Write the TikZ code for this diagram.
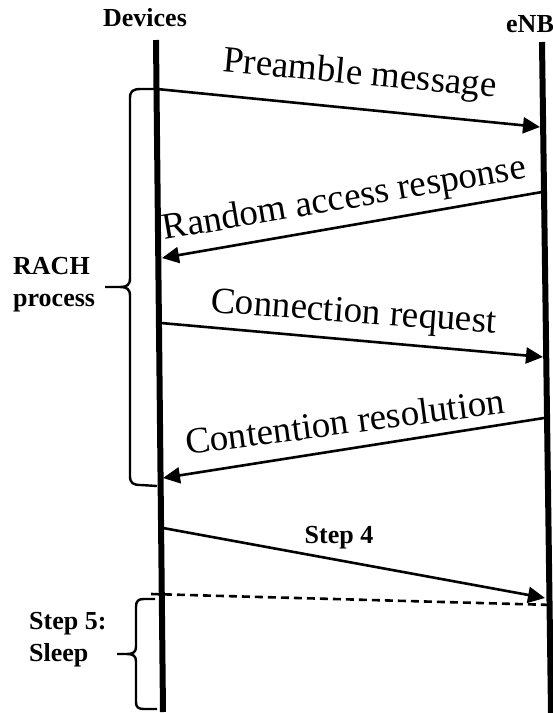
\documentclass[tikz,border=0pt]{standalone}
\usepackage{fontspec}
\setmainfont{Liberation Serif}
\usetikzlibrary{arrows.meta}

\tikzset{
  lifeline/.style={line width=6pt},
  msg/.style={line width=2.6pt, -{Triangle[length=17pt,width=16pt]}},
  msgtext/.style={anchor=base, inner sep=0pt, font=\fontsize{37}{42}\selectfont},
  actor/.style={inner sep=0pt, font=\fontsize{26}{32}\selectfont\bfseries},
  sidelabel/.style={inner sep=0pt, align=left, anchor=west, font=\fontsize{26}{32}\selectfont\bfseries},
  bracket/.style={line width=2.4pt, line join=round},
  sleepline/.style={line width=2.6pt, dash pattern=on 8pt off 5pt}
}

\begin{document}
\begin{tikzpicture}[x=1pt, y=-1pt]
\useasboundingbox (0,0) rectangle (553,713);

% actors and their lifelines
\node[actor, anchor=base] (dev) at (145,26) {Devices};
\node[actor, anchor=base west] (enb) at (506,32) {eNB};
\coordinate (devtop) at (156,40);
\coordinate (devbot) at (163,712);
\coordinate (enbtop) at (542,42);
\coordinate (enbbot) at (551,713);
\draw[lifeline] (devtop) -- (devbot);
\draw[lifeline] (enbtop) -- (enbbot);

% message end points on the lifelines
\coordinate (d1) at (157,89);   \coordinate (e1) at (540,127);
\coordinate (e2) at (542,192);  \coordinate (d2) at (162,258);
\coordinate (d3) at (161,323);  \coordinate (e3) at (543,357);
\coordinate (e4) at (544,418);  \coordinate (d4) at (163,478);
\coordinate (d5) at (163,528);  \coordinate (e5) at (545,598);
\coordinate (s1) at (151,594);  \coordinate (s2) at (553,605);

% RACH messages
\draw[msg] (d1) -- (e1);
\node[msgtext, rotate=-5.3] (m1) at (359,84.5) {Preamble message};
\draw[msg] (e2) -- (d2);
\node[msgtext, rotate=9.7] (m2) at (346,209) {Random access response};
\draw[msg] (d3) -- (e3);
\node[msgtext, rotate=-4.2] (m3) at (353,322.5) {Connection request};
\draw[msg] (e4) -- (d4);
\node[msgtext, rotate=7.5] (m4) at (346.5,434) {Contention resolution};

% step 4 and start of sleep
\draw[msg] (d5) -- (e5);
\node[actor, anchor=base] (m5) at (339,543) {Step 4};
\draw[sleepline] (s1) -- (s2);

% brace grouping the RACH process
\draw[bracket] (157,89) -- (141,89) .. controls (133,89) and (130,91) .. (130,98)
  -- (130,278) .. controls (130,285) and (127,287) .. (120,287) -- (105,287)
  (120,287) .. controls (127,287) and (130,289) .. (130,296)
  -- (130,476) .. controls (130,483) and (133,485) .. (141,485) -- (157,486);
\node[sidelabel] (rach) at (13,285) {RACH\\process};

% brace for the sleep period
\draw[bracket] (155,599) -- (144,599) .. controls (138,599) and (136,601) .. (136,607)
  -- (136,647) .. controls (136,652) and (133,654) .. (127,654) -- (117,654)
  (127,654) .. controls (133,654) and (136,656) .. (136,661)
  -- (136,702) .. controls (136,707) and (138,709) .. (144,709) -- (157,709);
\node[sidelabel] (sleep) at (29,640) {Step 5:\\Sleep};
\end{tikzpicture}
\end{document}
